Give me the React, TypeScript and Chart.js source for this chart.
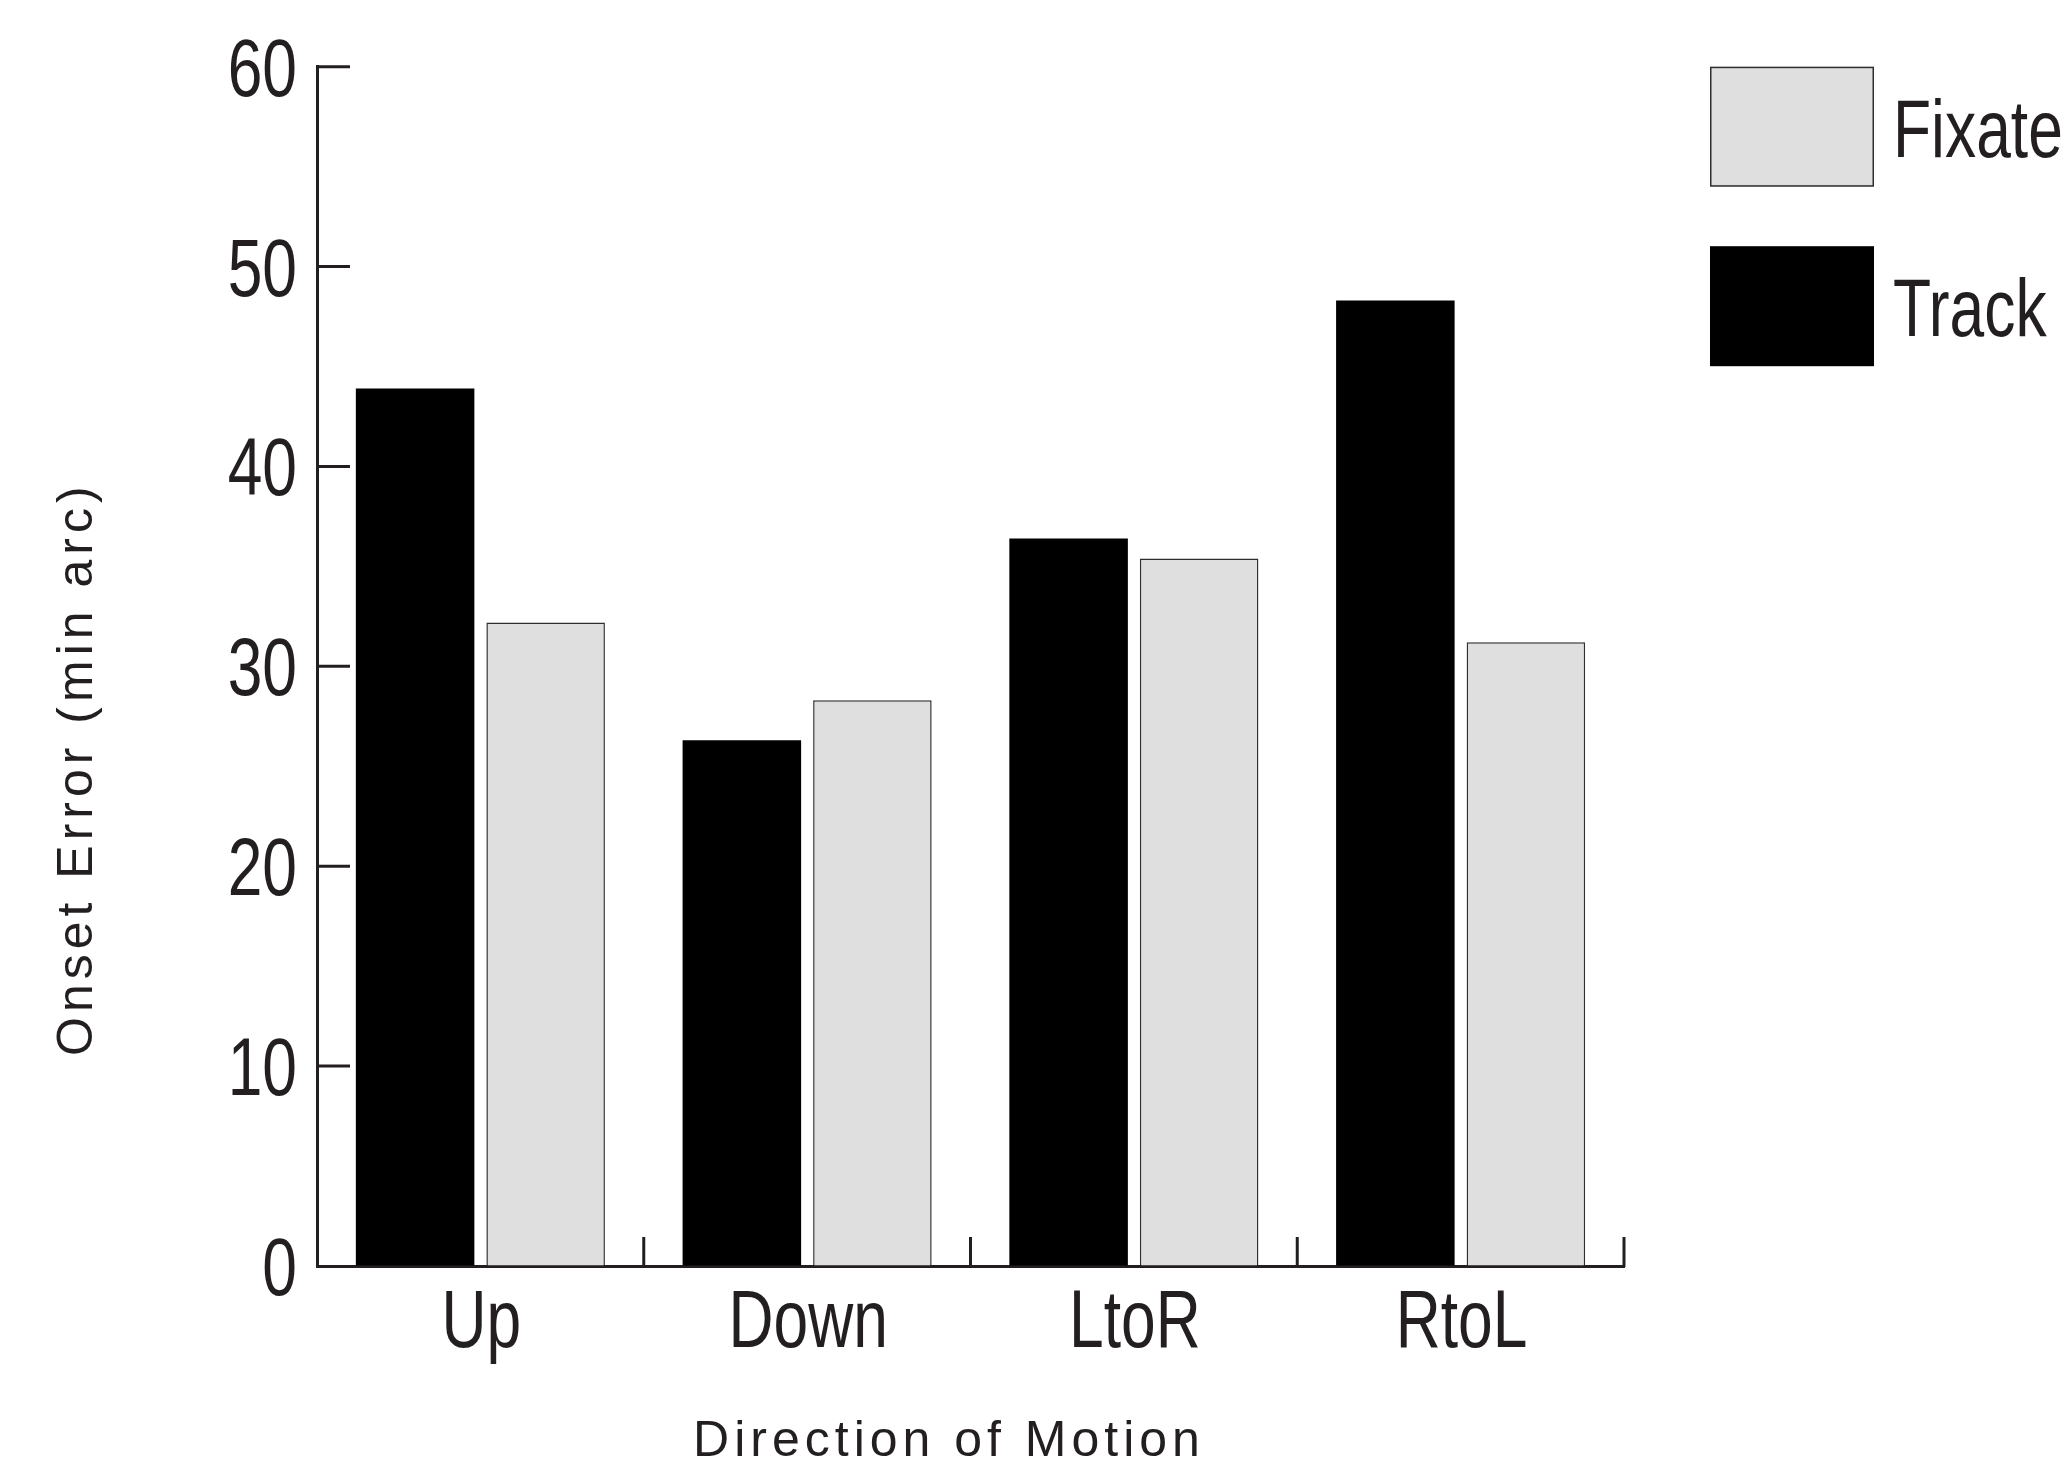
import React, { useEffect, useRef } from 'react';
import { Chart, registerables } from 'chart.js';

Chart.register(...registerables);

// ---- data ----
const categories = ['Up', 'Down', 'LtoR', 'RtoL'];
const trackValues = [43.9, 26.3, 36.4, 48.3];
const fixateValues = [32.2, 28.3, 35.4, 31.2];
const yTickValues = [0, 10, 20, 30, 40, 50, 60];
const yTickLabels = ['0', '10', '20', '30', '40', '50', '60'];
const seriesNames = ['Track', 'Fixate'];
const legendOrder = ['Fixate', 'Track'];
const xAxisTitle = 'Direction of Motion';
const yAxisTitle = 'Onset Error (min arc)';

// ---- style ----
const INK = '#231f20';
const SANS = "'Liberation Sans', Arial, sans-serif";
const CONDENSE = 0.77; // horizontal squeeze to imitate a condensed face
const BIG = `81px ${SANS}`;

function condensedText(ctx: CanvasRenderingContext2D, text: string, x: number, y: number, align: CanvasTextAlign) {
  ctx.save();
  ctx.translate(x, y);
  ctx.scale(CONDENSE, 1);
  ctx.font = BIG;
  ctx.textAlign = align;
  ctx.textBaseline = 'alphabetic';
  ctx.fillStyle = INK;
  ctx.fillText(text, 0, 0);
  ctx.restore();
}

const decorPlugin = {
  id: 'decor',
  afterDraw(chart: any) {
    const { ctx, chartArea, scales } = chart;
    const x = scales.x;
    const y = scales.y;
    ctx.save();
    ctx.strokeStyle = INK;
    ctx.lineWidth = 3;
    ctx.lineCap = 'butt';
    // inward y tick marks
    yTickValues.forEach((v) => {
      if (v === 0) return;
      const py = y.getPixelForValue(v);
      ctx.beginPath();
      ctx.moveTo(chartArea.left, py);
      ctx.lineTo(chartArea.left + 33, py);
      ctx.stroke();
    });
    // category boundary ticks pointing up
    const step = x.getPixelForValue(1) - x.getPixelForValue(0);
    categories.forEach((_, i) => {
      const px = x.getPixelForValue(i) + step / 2;
      ctx.beginPath();
      ctx.moveTo(px, chartArea.bottom + 1);
      ctx.lineTo(px, chartArea.bottom - 29);
      ctx.stroke();
    });

    // tick labels (positions from the chart scales)
    yTickValues.forEach((v, i) => {
      const py = y.getPixelForValue(v);
      condensedText(ctx, yTickLabels[i], chartArea.left - 20, py + 29, 'right');
    });
    categories.forEach((c, i) => {
      const px = x.getPixelForValue(i);
      condensedText(ctx, c, px + 1, chartArea.bottom + 81, 'center');
    });

    // legend
    const boxLeft = chartArea.right + 86;
    legendOrder.forEach((name, i) => {
      const ds = chart.data.datasets.find((d: any) => d.label === name);
      const top = chartArea.top + i * 179.5;
      ctx.fillStyle = ds.backgroundColor;
      ctx.fillRect(boxLeft, top, 164, 120);
      if (ds.borderWidth) {
        ctx.lineWidth = 1.5;
        ctx.strokeStyle = ds.borderColor;
        ctx.strokeRect(boxLeft + 0.75, top + 0.75, 162.5, 118.5);
      }
      condensedText(ctx, name, boxLeft + 164 + 19, top + 90, 'left');
    });

    // axis titles
    ctx.fillStyle = INK;
    ctx.font = `50px ${SANS}`;
    (ctx as any).letterSpacing = '5px';
    ctx.textAlign = 'center';
    ctx.textBaseline = 'alphabetic';
    ctx.fillText(xAxisTitle, chartArea.left + 632, chartArea.bottom + 190);

    ctx.save();
    ctx.translate(92, chartArea.top + 702);
    ctx.rotate(-Math.PI / 2);
    ctx.fillText(yAxisTitle, 0, 0);
    ctx.restore();
    (ctx as any).letterSpacing = '0px';
    ctx.restore();
  },
};

export default function App() {
  const ref = useRef<HTMLCanvasElement>(null);

  useEffect(() => {
    const chart = new Chart(ref.current as HTMLCanvasElement, {
      type: 'bar',
      data: {
        labels: categories,
        datasets: [
          {
            label: seriesNames[0],
            data: trackValues,
            backgroundColor: '#000000',
            borderColor: '#000000',
            borderWidth: 0,
            categoryPercentage: 0.799,
            barPercentage: 0.908,
          },
          {
            label: seriesNames[1],
            data: fixateValues,
            backgroundColor: '#dfdfdf',
            borderColor: '#2e2e2e',
            borderWidth: 1.5,
            categoryPercentage: 0.799,
            barPercentage: 0.908,
          },
        ],
      },
      options: {
        responsive: false,
        animation: false,
        devicePixelRatio: 1,
        layout: { padding: { left: 0, top: 66.7, right: 439, bottom: 68 } },
        plugins: {
          legend: { display: false },
          tooltip: { enabled: false },
          title: { display: false },
        },
        scales: {
          x: {
            type: 'category',
            offset: true,
            z: 1,
            grid: { display: true, drawOnChartArea: false, drawTicks: false },
            border: { display: true, color: INK, width: 3 },
            ticks: { display: false, autoSkip: false, maxRotation: 0 },
            afterFit: (s: any) => {
              s.height = 130;
            },
          },
          y: {
            type: 'linear',
            min: 0,
            max: 60,
            z: 1,
            grid: { display: true, drawOnChartArea: false, drawTicks: false },
            border: { display: true, color: INK, width: 3 },
            ticks: { display: false, autoSkip: false },
            afterBuildTicks: (s: any) => {
              s.ticks = yTickValues.map((v) => ({ value: v }));
            },
            afterFit: (s: any) => {
              s.width = 317;
            },
          },
        },
      },
      plugins: [decorPlugin],
    } as any);
    return () => chart.destroy();
  }, []);

  return (
    <div style={{ position: 'fixed', left: 0, top: 0, width: 2063, height: 1464, background: '#ffffff' }}>
      <canvas ref={ref} width={2063} height={1464} style={{ display: 'block', width: 2063, height: 1464 }} />
    </div>
  );
}
